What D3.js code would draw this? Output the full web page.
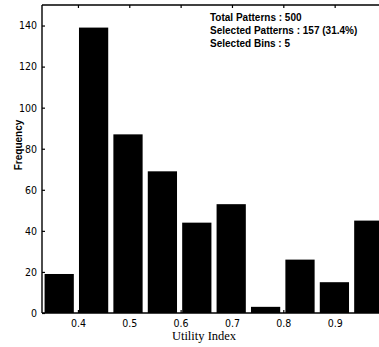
<!DOCTYPE html>
<html>
<head>
<meta charset="utf-8">
<script src="https://cdn.jsdelivr.net/npm/d3@7"></script>
<style>
  html, body { margin: 0; padding: 0; background: #fff; overflow: hidden; }
  svg { display: block; }
  .tick-label { font-family: "Liberation Sans Narrow", "Arial Narrow", "DejaVu Sans Condensed", sans-serif; font-size: 10.5px; fill: #000; }
  .info { font-family: "Liberation Sans", Arial, sans-serif; font-size: 10px; font-weight: bold; fill: #000; }
</style>
</head>
<body>
<script>
// Histogram of utility index values (10 bins from 0.33 to 1.0)
const binStart = 0.33;
const binEnd = 1.0;
const frequencies = [19, 139, 87, 69, 44, 53, 3, 26, 15, 45];
const xTicks = [0.4, 0.5, 0.6, 0.7, 0.8, 0.9];
const yTicks = [0, 20, 40, 60, 80, 100, 120, 140];
const infoLines = ["Total Patterns : 500", "Selected Patterns : 157 (31.4%)", "Selected Bins : 5"];

const W = 379, H = 347;
const plot = { left: 42, right: 386, top: 5, bottom: 313 };

const svg = d3.select("body").append("svg").attr("width", W).attr("height", H);

const x = d3.scaleLinear().domain([binStart, binEnd]).range([plot.left, plot.right]);
const y = d3.scaleLinear().domain([0, 150]).range([plot.bottom, plot.top]);

const binW = (binEnd - binStart) / frequencies.length;
const barFrac = 0.85;
const bins = frequencies.map((v, i) => ({ center: binStart + binW * (i + 0.5), value: v }));

// bars
svg.append("g").selectAll("rect").data(bins).join("rect")
  .attr("x", d => x(d.center - binW * barFrac / 2))
  .attr("width", d => x(d.center + binW * barFrac / 2) - x(d.center - binW * barFrac / 2))
  .attr("y", d => y(d.value))
  .attr("height", d => y(0) - y(d.value))
  .attr("fill", "#000");

// axes box with inward ticks
const axB = svg.append("g").attr("transform", `translate(0,${plot.bottom})`)
  .call(d3.axisBottom(x).tickValues(xTicks).tickSize(-3).tickPadding(7).tickFormat(d3.format(".1f")));
const axT = svg.append("g").attr("transform", `translate(0,${plot.top})`)
  .call(d3.axisTop(x).tickValues(xTicks).tickSize(-3).tickFormat(""));
const axL = svg.append("g").attr("transform", `translate(${plot.left},0)`)
  .call(d3.axisLeft(y).tickValues(yTicks).tickSize(-3).tickPadding(5));
const axR = svg.append("g").attr("transform", `translate(${plot.right},0)`)
  .call(d3.axisRight(y).tickValues(yTicks).tickSize(-3).tickFormat(""));

[axB, axT, axL, axR].forEach(g => {
  g.select(".domain").attr("stroke", "#000").attr("stroke-width", 1.4);
  g.selectAll(".tick line").attr("stroke", "#000").attr("stroke-width", 1.2);
  g.selectAll(".tick text").attr("class", "tick-label").attr("font-size", null).attr("font-family", null);
});
axB.selectAll(".domain").attr("d", `M${plot.left},0H${plot.right}`);
axT.selectAll(".domain").attr("d", `M${plot.left},0H${plot.right}`);
axL.selectAll(".domain").attr("d", `M0,${plot.bottom}V${plot.top}`);
axR.selectAll(".domain").attr("d", `M0,${plot.bottom}V${plot.top}`);

// axis titles
svg.append("text")
  .attr("x", 204).attr("y", 340)
  .attr("text-anchor", "middle")
  .attr("font-family", "'Liberation Serif', 'Times New Roman', serif")
  .attr("font-size", 12.5)
  .text("Utility Index");

svg.append("text")
  .attr("transform", "translate(22,145) rotate(-90)")
  .attr("text-anchor", "middle")
  .attr("font-family", "'Liberation Sans', Arial, sans-serif")
  .attr("font-weight", "bold")
  .attr("font-size", 10)
  .text("Frequency");

// summary text
svg.append("g").selectAll("text").data(infoLines).join("text")
  .attr("class", "info")
  .attr("x", 210)
  .attr("y", (d, i) => 20.5 + i * 13)
  .text(d => d);
</script>
</body>
</html>
